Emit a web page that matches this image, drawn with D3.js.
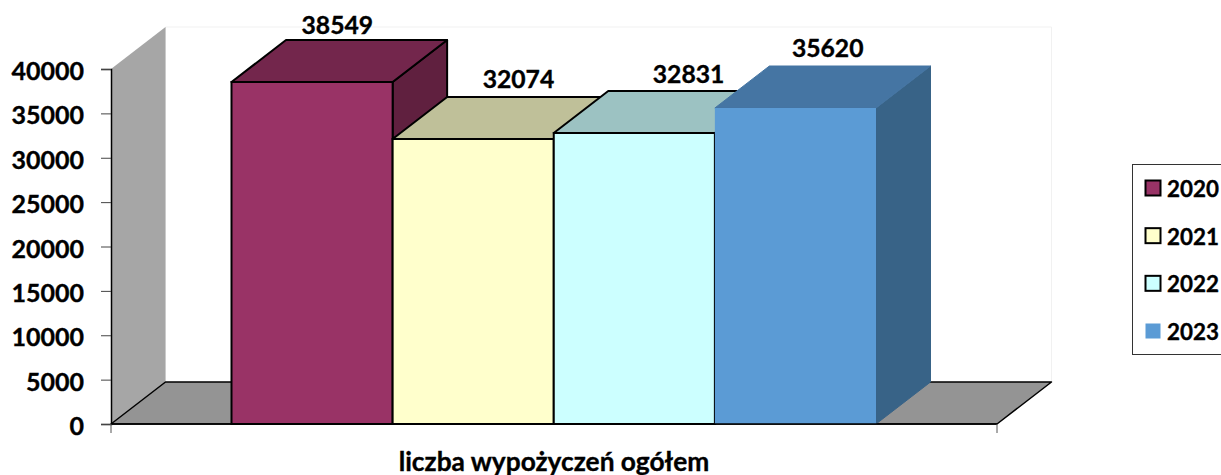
<!DOCTYPE html>
<html><head><meta charset="utf-8">
<script src="https://cdn.jsdelivr.net/npm/d3@7"></script>
<style>html,body{margin:0;padding:0;background:#fff;overflow:hidden}svg{display:block}text{font-family:Lato,"Open Sans",sans-serif;font-weight:700;fill:#000;stroke:#000;stroke-width:.35px}</style>
</head><body><div id="c"></div>
<script>
const years = ["2020","2021","2022","2023"];
const values = [38549,32074,32831,35620];
const frontColors = ["#993366","#ffffcc","#ccffff","#5b9bd5"];
const topColors = ["#73264c","#bfc099","#9cc2c2","#4575a3"];
const sideColors = ["#60203f","#a0a080","#80a0a0","#386387"];
const strokes = ["#000","#000","#000","none"];
const labelShift = [-2,18,27,5];
const labelRise = [0,3,2,3];
const yTicks = [0,5000,10000,15000,20000,25000,30000,35000,40000];
const category = "liczba wypożyczeń ogółem";

const W=1221,H=475, dx=54.5, dy=-42;
const svg=d3.select("#c").append("svg").attr("width",W).attr("height",H);
const y=d3.scaleLinear().domain([0,40000]).range([424,69]);
const xCat=d3.scalePoint().domain([category]).range([554,554]);
const x=d3.scaleBand().domain(years).range([231.5,876]);
const xL=111,xR=997,y0=y(0),yT=y(40000);
const poly=p=>p.map(q=>q.join(",")).join(" ");

// back wall (faint outline), side wall, floor
svg.append("polygon").attr("points",poly([[xL+dx,yT+dy],[xR+dx,yT+dy],[xR+dx,y0+dy],[xL+dx,y0+dy]])).attr("fill","#fff").attr("stroke","#f1f1f1").attr("stroke-width",1);
svg.append("polygon").attr("points",poly([[xL,yT],[xL+dx,yT+dy],[xL+dx,y0+dy],[xL,y0]])).attr("fill","#a6a6a6");
svg.append("polygon").attr("points",poly([[xL,y0],[xL+dx,y0+dy],[xR+dx,y0+dy],[xR,y0]])).attr("fill","#949494").attr("stroke","#000").attr("stroke-width",1.5).attr("stroke-linejoin","round");

// bars: a plain bar gets faces overlapped slightly so no seam shows between them
const g=svg.append("g").selectAll("g").data(years).join("g");
g.each(function(yr,i){
  const s=d3.select(this),a=x(yr),b=a+x.bandwidth(),t=Math.round(y(values[i]));
  const plain=strokes[i]==="none",sw=plain?1:2;
  s.append("polygon").attr("points",poly([[b,t],[b+dx,t+dy],[b+dx,y0+dy],[b,y0]])).attr("fill",sideColors[i]).attr("stroke",plain?sideColors[i]:strokes[i]).attr("stroke-width",sw).attr("stroke-linejoin","round");
  s.append("polygon").attr("points",poly([[a,t],[a+dx,t+dy],[b+dx,t+dy],[b,t]])).attr("fill",topColors[i]).attr("stroke",plain?topColors[i]:strokes[i]).attr("stroke-width",sw).attr("stroke-linejoin","round");
  s.append("rect").attr("x",a).attr("y",t).attr("width",b-a).attr("height",y0-t).attr("fill",frontColors[i]).attr("stroke",plain?frontColors[i]:strokes[i]).attr("stroke-width",plain?0:sw);
});
// baseline over bars
svg.append("line").attr("x1",xL).attr("x2",xR).attr("y1",y0).attr("y2",y0).attr("stroke","#000").attr("stroke-width",1.5);

// value labels
svg.append("g").selectAll("text").data(years).join("text")
 .attr("x",(d,i)=>x(d)+x.bandwidth()/2+dx/2+labelShift[i])
 .attr("y",(d,i)=>y(values[i])+dy-6-labelRise[i])
 .attr("text-anchor","middle").style("font-size","24.7px").text((d,i)=>values[i]);

// y axis
const ax=svg.append("g").attr("transform",`translate(${xL},0)`).call(d3.axisLeft(y).tickValues(yTicks).tickSize(10).tickPadding(17).tickFormat(d3.format("d")));
ax.select(".domain").attr("stroke","#000").attr("stroke-width",1.5);
ax.selectAll(".tick line").attr("stroke","#444").attr("stroke-width",1);
ax.selectAll("text").attr("dy","0.42em").style("font-size","25px").style("font-family",'Lato,sans-serif').style("font-weight",700).attr("fill","#000");

// category ticks
svg.append("g").selectAll("line").data([xL,xR]).join("line").attr("x1",d=>d).attr("x2",d=>d).attr("y1",y0).attr("y2",y0+9).attr("stroke","#555").attr("stroke-width",1);
svg.append("text").attr("x",xCat(category)).attr("y",470.5).attr("text-anchor","middle").style("font-size","26.3px").text(category);

// legend
svg.append("rect").attr("x",1132.5).attr("y",164.5).attr("width",110).attr("height",190).attr("fill","#fff").attr("stroke","#333");
const ly=d3.scalePoint().domain(years).range([188,331]);
const lg=svg.append("g").selectAll("g").data(years).join("g").attr("transform",d=>`translate(0,${ly(d)})`);
lg.append("rect").attr("x",1145.5).attr("y",-7.5).attr("width",15).attr("height",15).attr("fill",(d,i)=>frontColors[i]).attr("stroke",(d,i)=>strokes[i]).attr("stroke-width",2);
lg.append("text").attr("x",1167).attr("y",9).style("font-size","22.4px").text(d=>d);
</script></body></html>
